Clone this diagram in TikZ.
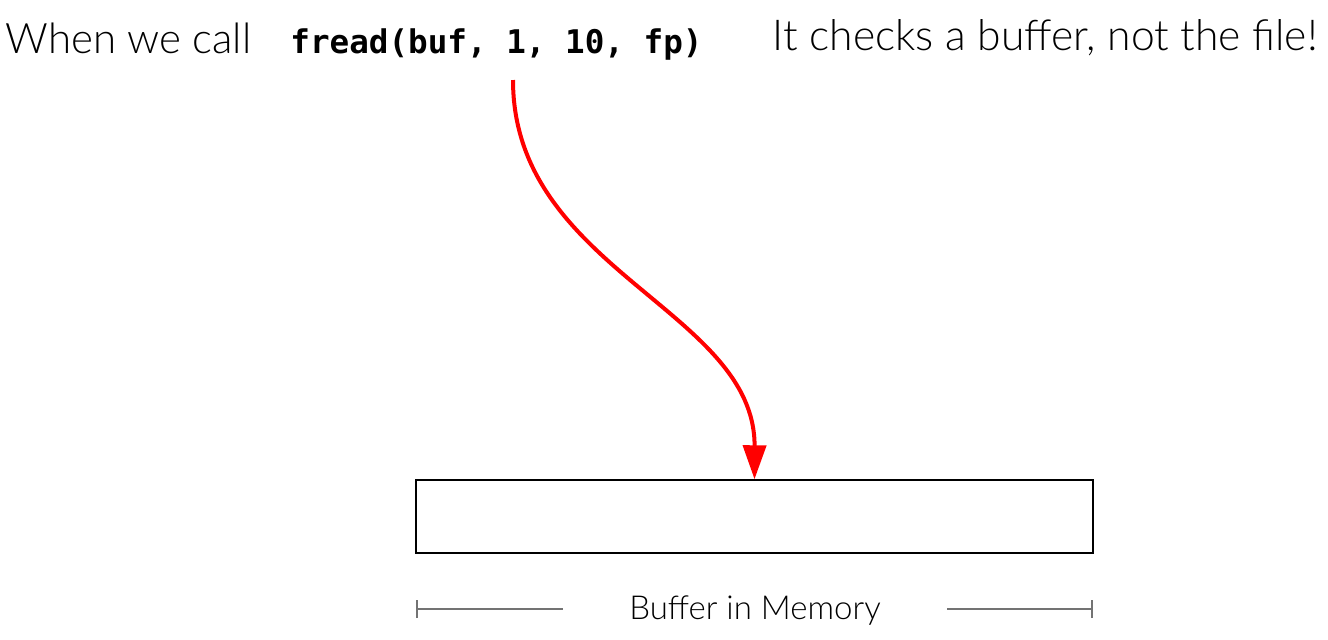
\documentclass[tikz,border=0pt]{standalone}
\usepackage{fontspec}
\newfontfamily\thinfont{Lato Light}
\newfontfamily\codefont{DejaVu Sans Mono}
\usepackage{tikz}
\usetikzlibrary{arrows.meta,positioning}

\begin{document}
\begin{tikzpicture}[x=0.5pt,y=-0.5pt]
    \tikzset{caption/.style={font=\thinfont\fontsize{21}{26}\selectfont,inner sep=0pt},
      dimline/.style={draw=black!55,line width=0.6pt}}
    \useasboundingbox (0,0) rectangle (1328,639);
    \node[caption,anchor=west] (when) at (5,38) {When we call};
    \node[font=\codefont\bfseries\fontsize{16.3}{20}\selectfont,inner sep=0pt,anchor=west] (code) at (290,44) {fread(buf, 1, 10, fp)};
    \node[caption,anchor=east,font=\thinfont\fontsize{21.3}{26}\selectfont] (checks) at (1318,38) {It checks a buffer, not the file!};
    \node[draw,line width=0.75pt,minimum width=338.5pt,minimum height=36.5pt,inner sep=0pt] (buf) at (754.5,516.5) {};
    \node[font=\thinfont\fontsize{16.5}{20}\selectfont,inner sep=0pt] (mem) at (755,611) {Buffer in Memory};
    \coordinate (src) at (513,80);
    \coordinate (dl) at (417,609);
    \coordinate (dr) at (1092,609);
    % the call lands in the buffer
    \draw[red,line width=2pt,-{Triangle[length=17pt,width=11.5pt]}]
    (src) .. controls (513,270) and (755,310) .. (buf.north);
    % size of the buffer
    \draw[dimline] (dl) -- ([xshift=-33pt]mem.west |- dl);
    \draw[dimline] ([xshift=33pt]mem.east |- dr) -- (dr);
    \draw[dimline] ([yshift=-4.5pt]dl) -- ([yshift=4.5pt]dl);
    \draw[dimline] ([yshift=-4.5pt]dr) -- ([yshift=4.5pt]dr);
\end{tikzpicture}
\end{document}
